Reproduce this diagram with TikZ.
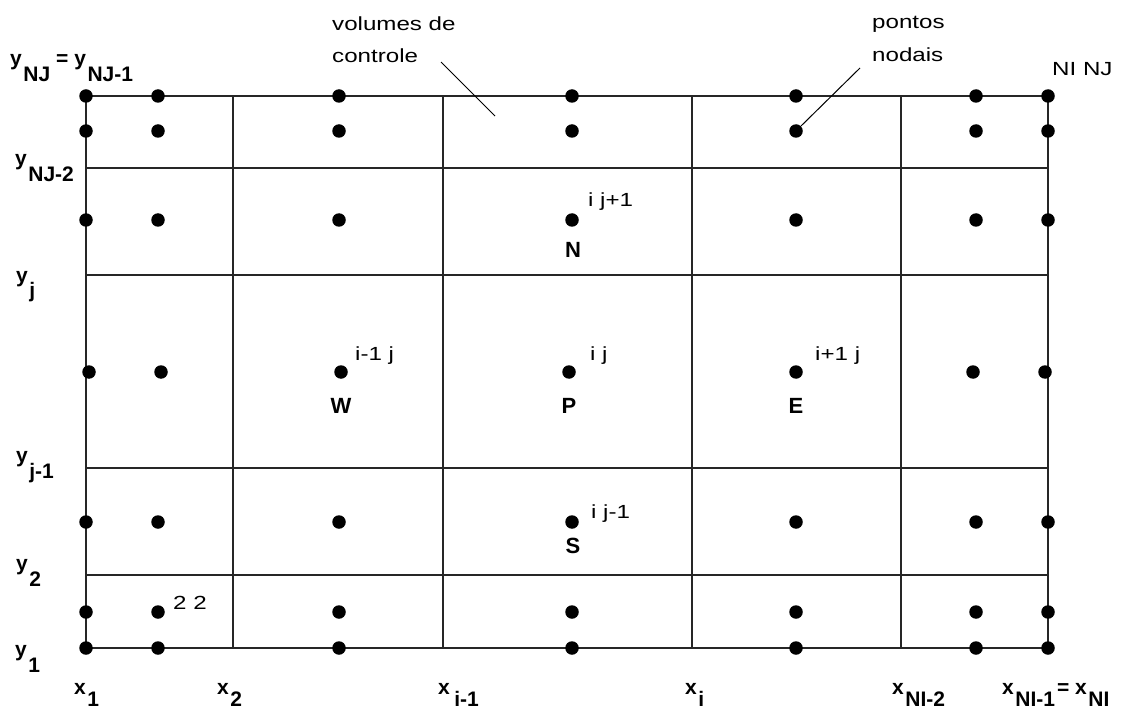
\documentclass[tikz,border=0pt]{standalone}
\usepackage{fontspec}
\setmainfont{Liberation Sans}
\newfontfamily\widefont[FakeStretch=1.27]{Liberation Sans}
\newcommand{\mysub}[2][12pt]{\kern1.5pt\raisebox{-#1}{#2}}
\newcommand{\ysub}[1]{\mysub[16pt]{#1}}
\begin{document}
\begin{tikzpicture}[x=1pt,y=-1pt,
  grid/.style={line width=1.3pt, draw=black!85},
  dot/.style={circle, fill=black, inner sep=0pt, minimum size=13.5pt},
  lbl/.style={font=\fontsize{21}{23}\selectfont\bfseries, inner sep=0pt, anchor=base west},
  small/.style={font=\widefont\fontsize{19}{21}\selectfont, inner sep=0pt, anchor=base west},
  big/.style={font=\fontsize{22}{24}\selectfont\bfseries, inner sep=0pt, anchor=base},
  leader/.style={line width=1pt}
]
\useasboundingbox (0,0) rectangle (1121,711);
% grid
\draw[grid] (86,96) rectangle (1048,648);
\foreach \x in {233,443,692,901} \draw[grid] (\x,96) -- (\x,648);
\foreach \y in {168,275,468,575} \draw[grid] (86,\y) -- (1048,\y);
% dots
\foreach \y/\r in {96/1,131/2,220/3,522/5,612/6,648/7}
  \foreach \x/\c in {86/1,158/2,339/3,572/4,796/5,976/6,1048/7}
    \node[dot] (d\r\c) at (\x,\y) {};
\foreach \x/\c in {89/1,161/2,341/3,569/4,796/5,973/6,1045/7}
  \node[dot] (d4\c) at (\x,372) {};
% leader lines
\node[small] (vol1) at (332,31) {volumes de};
\node[small] (vol2) at (332,63) {controle};
\coordinate (vs) at (441,62);
\coordinate (ve) at (495,116);
\draw[leader] (vs) -- (ve);
\node[small] (pon1) at (872,29) {pontos};
\node[small] (pon2) at (872,62) {nodais};
\coordinate (ps) at (860,68);
\draw[leader] (ps) -- (d25.45);
\node[small] (ninj) at (1052,76) {NI NJ};
% point labels
\node[small] (lij1) at (588,207) {i j+1};
\node[small] (lim1) at (355,360) {i-1 j};
\node[small] (lij) at (590,360) {i j};
\node[small] (lip1) at (815,360) {i+1 j};
\node[small] (lijm1) at (591,518) {i j-1};
\node[small] (l22) at (173,609) {2 2};
\node[big] (N) at (573,258) {N};
\node[big] (W) at (341,413) {W};
\node[big] (P) at (569,413) {P};
\node[big] (E) at (796,413) {E};
\node[big] (S) at (573,553) {S};
% axis labels
\node[lbl] (yNJ) at (10,66) {y\ysub{NJ}\kern6pt= y\ysub{NJ-1}};
\node[lbl] (yNJ2) at (15,166) {y\ysub{NJ-2}};
\node[lbl] (yj) at (16,282) {y\ysub{j}};
\node[lbl] (yjm1) at (16,462) {y\ysub{j-1}};
\node[lbl] (y2) at (16,570) {y\ysub{2}};
\node[lbl] (y1) at (15,656) {y\ysub{1}};
\node[lbl] (x1) at (74,694) {x\mysub{1}};
\node[lbl] (x2) at (217,694) {x\mysub{2}};
\node[lbl] (xim1) at (438,694) {x\kern3pt\mysub{i-1}};
\node[lbl] (xi) at (685,694) {x\mysub{i}};
\node[lbl] (xNI2) at (892,694) {x\mysub{NI-2}};
\node[lbl] (xNI1) at (1002,694) {x\mysub{NI-1}\kern2pt= x\mysub{NI}};
\end{tikzpicture}
\end{document}
